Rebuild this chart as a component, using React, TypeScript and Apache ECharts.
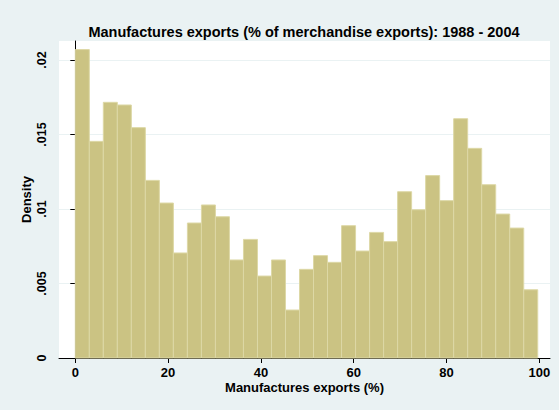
import React, { useEffect, useRef } from "react";
import * as echarts from "echarts";

const titleText = "Manufactures exports (% of merchandise exports): 1988 - 2004";
const xAxisTitle = "Manufactures exports (%)";
const yAxisTitle = "Density";

// Histogram: 33 bins starting at 0
const binStart = 0;
const binWidth = 3.02;
const densities = [
  0.0207, 0.01454, 0.01716, 0.01698, 0.01546, 0.01192, 0.0104, 0.00705, 0.00906,
  0.01027, 0.00948, 0.00658, 0.00796, 0.0055, 0.00658, 0.00322, 0.00595, 0.00687,
  0.00642, 0.00888, 0.00718, 0.00843, 0.00781, 0.01116, 0.00995, 0.01224, 0.01056,
  0.01606, 0.01407, 0.01163, 0.00966, 0.00872, 0.00458,
];

const xTicks = [0, 20, 40, 60, 80, 100];
const yTicks = [0, 0.005, 0.01, 0.015, 0.02];
const yTickLabels = ["0", ".005", ".01", ".015", ".02"];

const FONT = "Liberation Sans, Arial, Helvetica, sans-serif";

export default function App() {
  const ref = useRef<HTMLDivElement>(null);
  useEffect(() => {
    if (!ref.current) return;
    const chart = echarts.init(ref.current, null, { renderer: "svg" });
    const data = densities.map((d, i) => [
      binStart + i * binWidth,
      binStart + (i + 1) * binWidth,
      d,
    ]);
    chart.setOption({
      animation: false,
      backgroundColor: "#eaf2f3",
      title: {
        text: titleText,
        left: 304,
        top: 24,
        textAlign: "center",
        textStyle: { fontFamily: FONT, fontSize: 14.5, fontWeight: "bold", color: "#000" },
        padding: 0,
      },
      grid: {
        left: 59,
        right: 9,
        top: 41,
        bottom: 52,
        show: true,
        backgroundColor: "#ffffff",
        borderWidth: 0,
      },
      xAxis: {
        type: "value",
        min: -3.51,
        max: 102.3,
        name: xAxisTitle,
        nameLocation: "middle",
        nameGap: 23,
        nameMoveOverlap: false,
        nameTextStyle: { fontFamily: FONT, fontSize: 13, fontWeight: "bold", color: "#000" },
        axisLine: { show: true, onZero: false, lineStyle: { color: "#000", width: 1 } },
        axisTick: { show: true, length: 5, customValues: xTicks, lineStyle: { color: "#000" } },
        axisLabel: {
          customValues: xTicks,
          margin: 8,
          fontFamily: FONT,
          fontSize: 13,
          fontWeight: "bold",
          color: "#000",
        },
        splitLine: { show: false },
      },
      yAxis: {
        type: "value",
        min: 0,
        max: 0.021275,
        name: yAxisTitle,
        nameLocation: "middle",
        nameGap: 26,
        nameMoveOverlap: false,
        nameTextStyle: { fontFamily: FONT, fontSize: 13, fontWeight: "bold", color: "#000" },
        axisLine: { show: true, lineStyle: { color: "#000", width: 1 } },
        axisTick: { show: true, length: 5, customValues: yTicks, lineStyle: { color: "#000" } },
        axisLabel: {
          customValues: yTicks,
          rotate: 90,
          margin: 11,
          fontFamily: FONT,
          fontSize: 12.5,
          fontWeight: "bold",
          color: "#000",
          formatter: (v: number) => {
            const idx = yTicks.findIndex((t) => Math.abs(t - v) < 1e-9);
            return idx >= 0 ? yTickLabels[idx] : "";
          },
        },
        splitLine: { show: true, lineStyle: { color: "#eaf2f3", width: 1 } },
      },
      series: [
        {
          type: "custom",
          encode: { x: [0, 1], y: 2 },
          data,
          renderItem: (params: any, api: any) => {
            const p0 = api.coord([api.value(0), api.value(2)]);
            const p1 = api.coord([api.value(1), 0]);
            return {
              type: "rect",
              shape: { x: p0[0], y: p0[1], width: p1[0] - p0[0], height: p1[1] - p0[1] },
              style: { fill: "#cbc383", stroke: "#ddd8a6", lineWidth: 1 },
            };
          },
        },
      ],
    });
    return () => chart.dispose();
  }, []);
  return <div ref={ref} style={{ width: 559, height: 410, position: "absolute", left: 0, top: 0 }} />;
}
